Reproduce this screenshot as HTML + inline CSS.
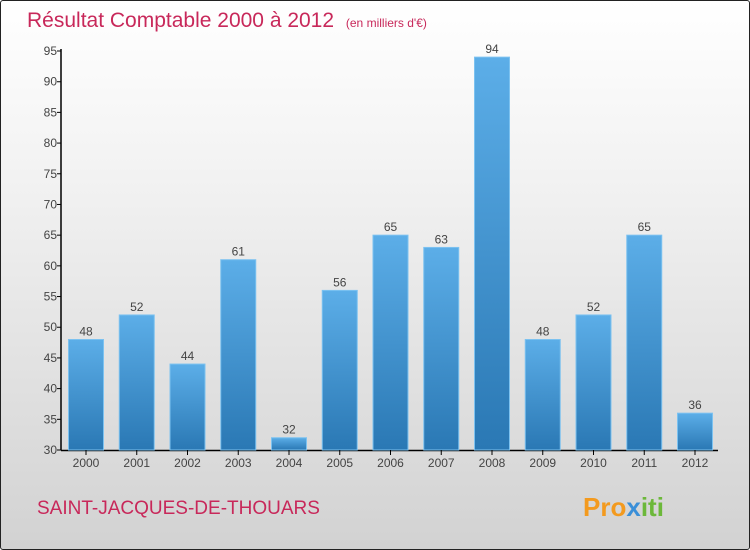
<!DOCTYPE html>
<html><head><meta charset="utf-8"><style>
body{margin:0}
#c{width:748px;height:548px;border:1px solid #222;border-radius:3px;background:linear-gradient(#ffffff,#f3f3f3 30%,#d2d2d2);position:relative;font-family:"Liberation Sans",sans-serif;overflow:hidden}
</style></head><body>
<div id="c">
<svg width="748" height="548" id="s">
<defs><linearGradient id="g" x1="0" y1="0" x2="0" y2="1"><stop offset="0" stop-color="#5caee8"/><stop offset="1" stop-color="#2a78b4"/></linearGradient></defs>
<text x="26" y="26" font-size="21" fill="#c8285a">Résultat Comptable 2000 à 2012 <tspan font-size="12" dx="6">(en milliers d'€)</tspan></text>
<text x="36" y="513" font-size="19" fill="#c8285a">SAINT-JACQUES-DE-THOUARS</text>
<text x="582" y="515" font-size="26" font-weight="bold" fill="#f39a1e">Pro<tspan fill="#3a8fd8">x</tspan><tspan fill="#6cb83a">iti</tspan></text>
<g id="plot"></g>
</svg></div>
<script>
const years=["2000","2001","2002","2003","2004","2005","2006","2007","2008","2009","2010","2011","2012"];
const values=[48,52,44,61,32,56,65,63,94,48,52,65,36];
const ticks=[30,35,40,45,50,55,60,65,70,75,80,85,90,95];
const NS="http://www.w3.org/2000/svg";
const g=document.getElementById('plot');
const y=v=>449-(v-30)*(399/65);
const x=i=>85+i*50.75;
function mk(t,a){const e=document.createElementNS(NS,t);for(const k in a)e.setAttribute(k,a[k]);g.appendChild(e);return e;}
let ax=mk('line',{x1:60,y1:48,x2:60,y2:449.5,stroke:'#000','stroke-width':1.5});


let bx=mk('line',{x1:60,y1:449.5,x2:717,y2:449.5,stroke:'#000','stroke-width':1.5});


ticks.forEach(t=>{
 let l=mk('line',{x1:56,x2:60,y1:y(t),y2:y(t),stroke:'#000'});
 
 
 let tx=mk('text',{x:56,y:y(t)+4,'font-size':12,'text-anchor':'end',fill:'#444'});
 tx.textContent=t;
 
 
});
years.forEach((yr,i)=>{
 const v=values[i];
 let r=mk('rect',{x:x(i)-17.5,y:y(v),width:35,height:449-y(v),fill:'url(#g)',stroke:'#7cc2f0','stroke-width':1});
 
 
 let vl=mk('text',{x:x(i),y:y(v)-4,'font-size':12,'text-anchor':'middle',fill:'#444'});
 vl.textContent=v;
 
 
 let tk=mk('line',{x1:x(i),x2:x(i),y1:449,y2:454,stroke:'#000'});
 
 
 let xl=mk('text',{x:x(i),y:466,'font-size':12,'text-anchor':'middle',fill:'#444'});
 xl.textContent=yr;
 
 
});
</script>
</body></html>
